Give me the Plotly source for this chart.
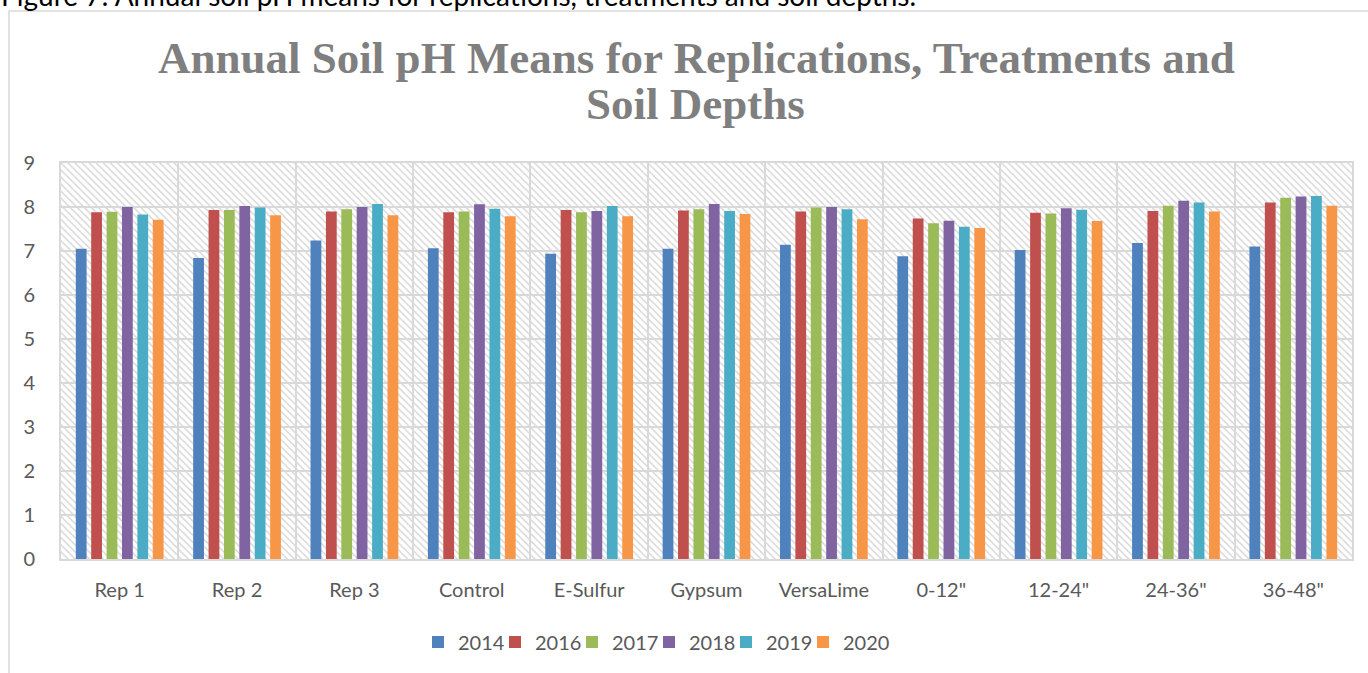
import plotly.graph_objects as go

categories = ["Rep 1", "Rep 2", "Rep 3", "Control", "E-Sulfur", "Gypsum",
              "VersaLime", '0-12"', '12-24"', '24-36"', '36-48"']
years = ["2014", "2016", "2017", "2018", "2019", "2020"]

ph_2014 = [7.05, 6.84, 7.24, 7.06, 6.94, 7.05, 7.14, 6.88, 7.02, 7.18, 7.10]
ph_2016 = [7.88, 7.93, 7.90, 7.88, 7.93, 7.92, 7.90, 7.74, 7.87, 7.91, 8.10]
ph_2017 = [7.89, 7.93, 7.95, 7.90, 7.88, 7.95, 7.99, 7.63, 7.85, 8.03, 8.21]
ph_2018 = [8.00, 8.02, 8.00, 8.06, 7.91, 8.07, 8.00, 7.69, 7.97, 8.14, 8.24]
ph_2019 = [7.83, 7.99, 8.07, 7.96, 8.02, 7.91, 7.95, 7.55, 7.94, 8.10, 8.25]
ph_2020 = [7.71, 7.81, 7.81, 7.79, 7.79, 7.84, 7.72, 7.52, 7.68, 7.90, 8.03]

series = [ph_2014, ph_2016, ph_2017, ph_2018, ph_2019, ph_2020]
colors = ["#4F81BD", "#C0504D", "#9BBB59", "#8064A2", "#4BACC6", "#F79646"]

y_ticks = list(range(0, 10))

W, H = 1368, 673
ML, MR, MT, MB = 61, 16, 163, 114
PW = W - ML - MR
PH = H - MT - MB


def px_x(p):
    return (p - ML) / PW


def px_y(p):
    return (H - MB - p) / PH


fig = go.Figure()

# hatched background of plot area (decoration, on hidden unit axes)
fig.add_trace(go.Scatter(
    x=[0, 1, 1, 0, 0], y=[0, 0, 1, 1, 0], xaxis="x", yaxis="y",
    mode="lines", line=dict(width=0), fill="toself",
    fillcolor="rgba(0,0,0,0)",
    fillpattern=dict(shape="\\", fgcolor="#d9d9d9", bgcolor="rgba(0,0,0,0)",
                     size=5, solidity=0.3, fillmode="replace"),
    hoverinfo="skip", showlegend=False,
))

for yr, vals, col in zip(years, series, colors):
    fig.add_trace(go.Bar(
        x=categories, y=vals, name=yr, xaxis="x2", yaxis="y2",
        marker=dict(color=col, line=dict(width=0)),
    ))

# invisible spacer entry so the last legend label is not clipped
fig.add_trace(go.Scatter(
    x=[None], y=[None], xaxis="x", yaxis="y", mode="markers", name=" ",
    marker=dict(color="rgba(0,0,0,0)"), hoverinfo="skip", showlegend=True,
))

tick_font = dict(family="Lato", size=20, color="#595959")

fig.update_layout(
    width=W, height=H,
    margin=dict(l=ML, r=MR, t=MT, b=MB),
    paper_bgcolor="white", plot_bgcolor="white",
    barmode="group", bargap=0.213, bargroupgap=0.3,
    xaxis=dict(range=[0, 1], visible=False, fixedrange=True),
    yaxis=dict(range=[0, 1], visible=False, fixedrange=True),
    xaxis2=dict(overlaying="x", side="bottom", type="category",
                showgrid=True, gridcolor="#d9d9d9", gridwidth=2,
                tickson="boundaries", ticks="", tickfont=tick_font,
                showline=True, mirror=True, linecolor="#d9d9d9", linewidth=2,
                ticklabelstandoff=12),
    yaxis2=dict(overlaying="y", side="left", range=[0, 9],
                tickvals=y_ticks, showgrid=True, gridcolor="#d9d9d9",
                gridwidth=2, zeroline=False, ticks="", tickfont=tick_font,
                showline=True, mirror=True, linecolor="#d9d9d9", linewidth=2,
                ticklabelstandoff=20),
    legend=dict(orientation="h", x=px_x(418), xanchor="left",
                y=px_y(642), yanchor="middle",
                font=dict(family="Lato", size=20, color="#595959"),
                itemwidth=30, traceorder="normal",
                entrywidth=32, entrywidthmode="pixels"),
    showlegend=True,
)

# chart border
fig.add_shape(type="rect", xref="paper", yref="paper",
              x0=px_x(9), x1=px_x(1420), y0=px_y(11), y1=px_y(720),
              line=dict(color="#d9d9d9", width=1.5), fillcolor="rgba(0,0,0,0)",
              layer="below")

# title (two lines)
title_font = dict(family="Liberation Serif", size=45, color="#7f7f7f")
fig.add_annotation(text="<b>Annual Soil pH Means for Replications, Treatments and</b>",
                   xref="paper", yref="paper", x=px_x(696), y=px_y(58),
                   xanchor="center", yanchor="middle", showarrow=False,
                   font=title_font)
fig.add_annotation(text="<b>Soil Depths</b>",
                   xref="paper", yref="paper", x=px_x(695), y=px_y(104),
                   xanchor="center", yanchor="middle", showarrow=False,
                   font=title_font)

# caption above chart (cut off at top of the page)
fig.add_annotation(text="Figure 7: Annual soil pH means for replications, treatments and soil depths.",
                   xref="paper", yref="paper", x=px_x(-1), y=px_y(14),
                   xanchor="left", yanchor="bottom", showarrow=False,
                   font=dict(family="Lato", size=28, color="#000000"))

fig.write_html("out.html",
               config={"displayModeBar": False},
               post_script="document.body.style.margin='0';")
